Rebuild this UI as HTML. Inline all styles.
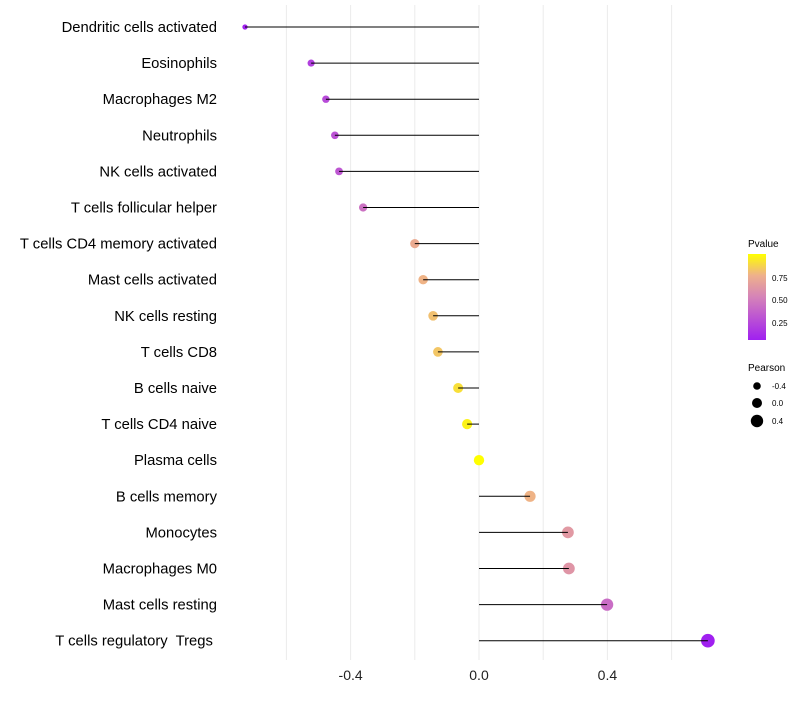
<!DOCTYPE html>
<html><head><meta charset="utf-8"><style>
body{margin:0;background:#fff;}
svg text{font-family:"Liberation Sans",sans-serif;white-space:pre;}
</style></head><body>
<svg id="chart" width="800" height="700" xmlns="http://www.w3.org/2000/svg">
<defs><linearGradient id="pg" x1="0" y1="1" x2="0" y2="0">
<stop offset="0" stop-color="#a020f0"/><stop offset="0.5" stop-color="#d583b8"/><stop offset="0.75" stop-color="#eeb08c"/><stop offset="1" stop-color="#ffff00"/>
</linearGradient></defs>
<g id="grid"></g><g id="marks"></g><g id="labels"></g>
<g>
<text x="748" y="247" font-size="10">Pvalue</text>
<rect x="748" y="254" width="18" height="86" fill="url(#pg)"/>
<text x="772" y="281" font-size="8">0.75</text>
<text x="772" y="303" font-size="8">0.50</text>
<text x="772" y="326" font-size="8">0.25</text>
</g>
<g>
<text x="748" y="371" font-size="10">Pearson</text>
<circle cx="757" cy="386" r="3.8" fill="#000"/><text x="772" y="389" font-size="8">-0.4</text>
<circle cx="757" cy="403" r="5" fill="#000"/><text x="772" y="406" font-size="8">0.0</text>
<circle cx="757" cy="421" r="6.2" fill="#000"/><text x="772" y="424" font-size="8">0.4</text>
</g>
</svg>
<script>
const categories=["Dendritic cells activated","Eosinophils","Macrophages M2","Neutrophils","NK cells activated","T cells follicular helper","T cells CD4 memory activated","Mast cells activated","NK cells resting","T cells CD8","B cells naive","T cells CD4 naive","Plasma cells","B cells memory","Monocytes","Macrophages M0","Mast cells resting","T cells regulatory  Tregs "];
const pearson=[-0.729,-0.523,-0.477,-0.449,-0.436,-0.361,-0.2,-0.174,-0.143,-0.128,-0.065,-0.037,0.0,0.159,0.277,0.28,0.399,0.713];
const pvalue=[0.07,0.2,0.25,0.28,0.3,0.42,0.72,0.76,0.8,0.82,0.9,0.96,1.0,0.76,0.62,0.6,0.4,0.06];
const xTicks=[-0.4,0.0,0.4];
const xTickLabels=["-0.4","0.0","0.4"];
const gridVals=[-0.6,-0.4,-0.2,0,0.2,0.4,0.6];
const NS="http://www.w3.org/2000/svg";
const xs=v=>479+v*321;
const ys=i=>27+i*36.1;
const rs=v=>Math.max(1.5,Math.sqrt(Math.max(0,27+27.5*v)));
function col(p){
  const st=[[0.06,[160,32,240]],[0.5,[213,131,184]],[0.75,[238,176,140]],[1.0,[255,255,0]]];
  if(p<=st[0][0])return 'rgb('+st[0][1]+')';
  for(let k=1;k<st.length;k++){if(p<=st[k][0]){const t=(p-st[k-1][0])/(st[k][0]-st[k-1][0]);const a=st[k-1][1],b=st[k][1];return 'rgb('+a.map((c,j)=>Math.round(c+(b[j]-c)*t)).join(',')+')';}}
  return 'rgb(255,255,0)';
}
function mk(t,at,parent){const e=document.createElementNS(NS,t);for(const k in at)e.setAttribute(k,at[k]);document.getElementById(parent).appendChild(e);return e;}
gridVals.forEach(v=>{const l=mk('line',{x1:xs(v),x2:xs(v),y1:5,y2:660,stroke:'#ebebeb','stroke-width':1},'grid');

});
xTicks.forEach((v,i)=>{const t=mk('text',{x:xs(v),y:680,'font-size':14,'text-anchor':'middle',fill:'#222'},'labels');t.textContent=xTickLabels[i];

});
categories.forEach((c,i)=>{
  const y=ys(i);
  const pt=mk('circle',{cx:xs(pearson[i]),cy:y,r:rs(pearson[i]),fill:col(pvalue[i])},'marks');
  
  
  const ln=mk('line',{x1:xs(0),x2:xs(pearson[i]),y1:y,y2:y,stroke:'#000','stroke-width':1},'marks');
  
  
  const t=mk('text',{x:217,y:y+5,'font-size':14.8,'text-anchor':'end',fill:'#000'},'labels');t.textContent=c;
  
  
});
</script>
</body></html>
